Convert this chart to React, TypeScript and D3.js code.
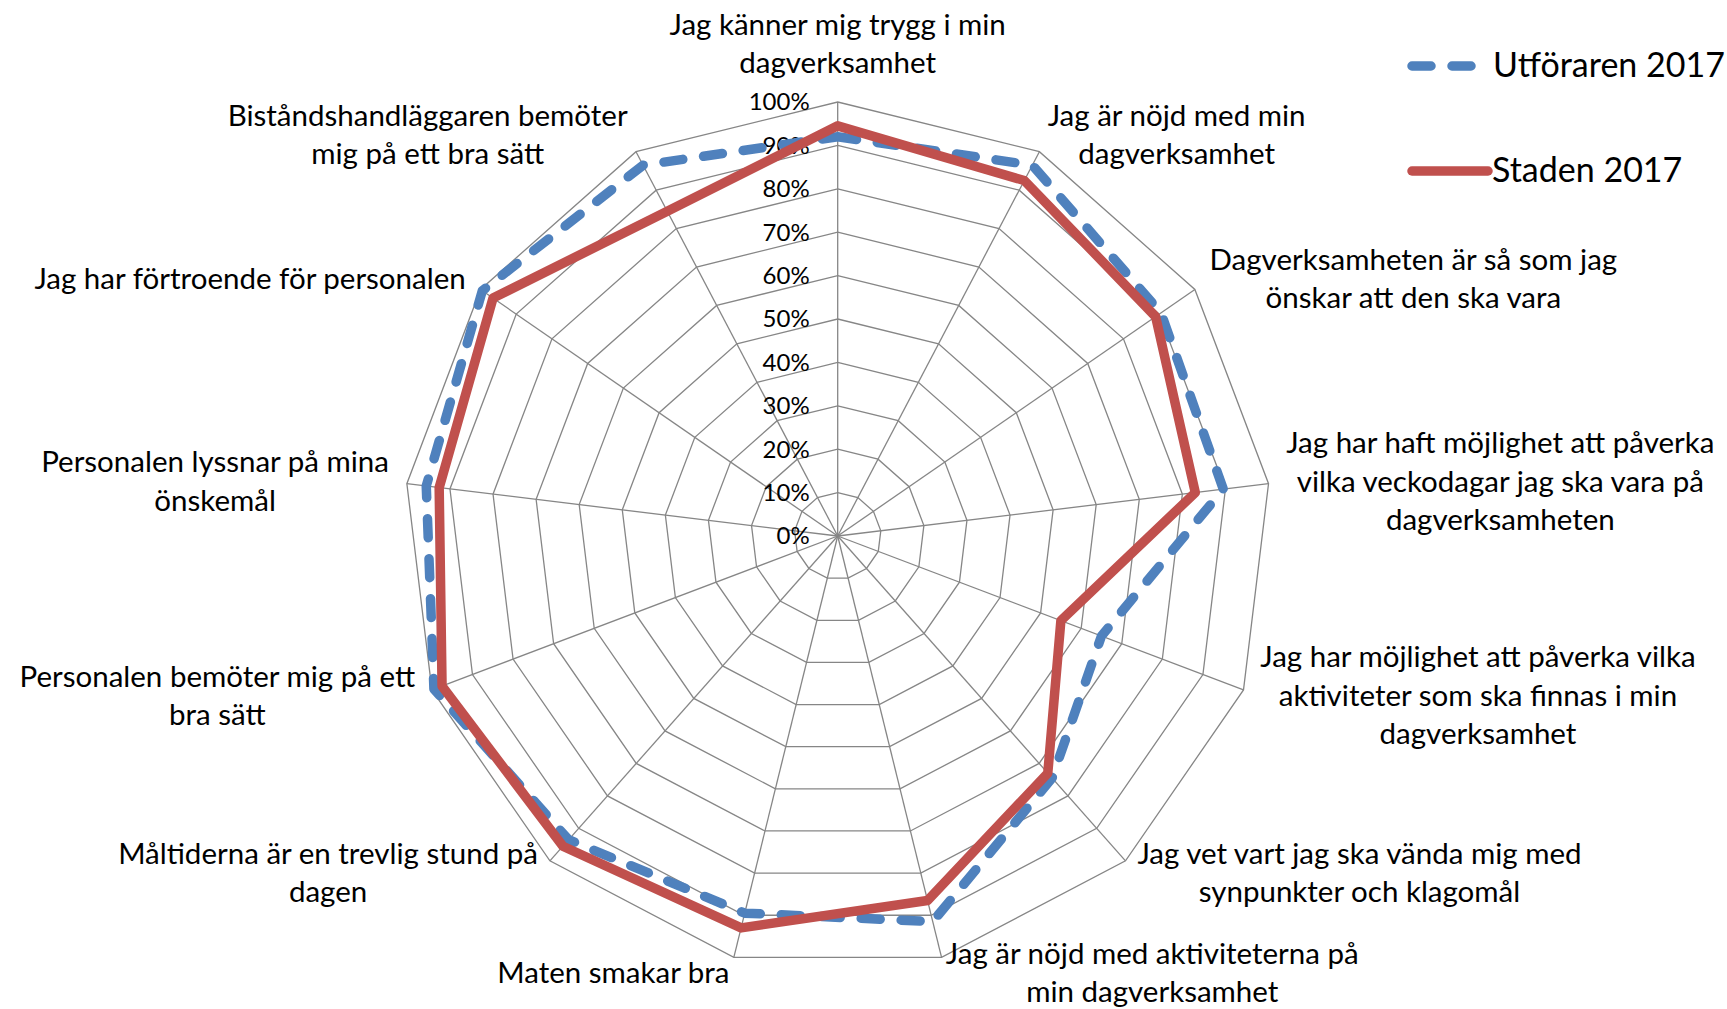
import React, { useEffect, useRef } from 'react';
import * as d3 from 'd3';

// Axis labels, already wrapped the way the original chart wraps them
const categories: string[][] = [
  ['Jag känner mig trygg i min', 'dagverksamhet'],
  ['Jag är nöjd med min', 'dagverksamhet'],
  ['Dagverksamheten är så som jag', 'önskar att den ska vara'],
  ['Jag har haft möjlighet att påverka', 'vilka veckodagar jag ska vara på', 'dagverksamheten'],
  ['Jag har möjlighet att påverka vilka', 'aktiviteter som ska finnas i min', 'dagverksamhet'],
  ['Jag vet vart jag ska vända mig med', 'synpunkter och klagomål'],
  ['Jag är nöjd med aktiviteterna på', 'min dagverksamhet'],
  ['Maten smakar bra'],
  ['Måltiderna är en trevlig stund på', 'dagen'],
  ['Personalen bemöter mig på ett', 'bra sätt'],
  ['Personalen lyssnar på mina', 'önskemål'],
  ['Jag har förtroende för personalen'],
  ['Biståndshandläggaren bemöter', 'mig på ett bra sätt'],
];

const utforaren2017 = [92, 96.5, 90.5, 89.5, 65, 74.5, 91.5, 89.5, 93.5, 99.5, 95.5, 99.5, 96.5];
const staden2017 = [94.5, 92.5, 89, 83, 55, 73, 86.5, 93, 95.5, 97.5, 92.5, 96.5, 84.5];

const ticks = [0, 10, 20, 30, 40, 50, 60, 70, 80, 90, 100];
const tickLabels = ticks.map(t => `${t}%`);

const seriesNames = ['Utföraren 2017', 'Staden 2017'];

const W = 1727;
const H = 1009;
const FONT = 'Lato, "Open Sans", sans-serif';

export default function App() {
  const svgRef = useRef<SVGSVGElement>(null);

  useEffect(() => {
    if (!svgRef.current) return;
    const svg = d3.select(svgRef.current);
    svg.selectAll('*').remove();

    const cx = 837.7;
    const cy = 536;
    const R = 434;
    const n = categories.length;

    const r = d3.scaleLinear().domain([0, 100]).range([0, R]);
    const angle = d3.scaleLinear().domain([0, n]).range([0, 2 * Math.PI]);
    const idx = d3.range(n);

    const g = svg.append('g').attr('transform', `translate(${cx},${cy})`);

    // grid rings
    ticks.slice(1).forEach(t => {
      const ring = d3.lineRadial<number>()
        .angle(i => angle(i))
        .radius(() => r(t))
        .curve(d3.curveLinearClosed);
      g.append('path')
        .attr('d', ring(idx))
        .attr('fill', 'none')
        .attr('stroke', '#868686')
        .attr('stroke-width', 1.3);
    });

    // spokes
    idx.forEach(i => {
      const a = angle(i);
      g.append('line')
        .attr('x1', 0).attr('y1', 0)
        .attr('x2', r(100) * Math.sin(a))
        .attr('y2', -r(100) * Math.cos(a))
        .attr('stroke', '#868686')
        .attr('stroke-width', 1.3);
    });

    // tick labels
    ticks.forEach((t, k) => {
      g.append('text')
        .attr('x', -28)
        .attr('y', -r(t))
        .attr('dy', '0.35em')
        .attr('text-anchor', 'end')
        .attr('font-family', FONT)
        .attr('font-size', 24)
        .attr('fill', '#000')
        .text(tickLabels[k]);
    });

    // series
    const line = (vals: number[]) => d3.lineRadial<number>()
      .angle(i => angle(i))
      .radius(i => r(vals[i]))
      .curve(d3.curveLinearClosed)(idx);

    g.append('path')
      .attr('d', line(utforaren2017))
      .attr('fill', 'none')
      .attr('stroke', '#4F81BD')
      .attr('stroke-width', 9.5)
      .attr('stroke-dasharray', '19 21')
      .attr('stroke-linecap', 'round')
      .attr('stroke-linejoin', 'round');

    g.append('path')
      .attr('d', line(staden2017))
      .attr('fill', 'none')
      .attr('stroke', '#C0504D')
      .attr('stroke-width', 9.5)
      .attr('stroke-linejoin', 'round');

    // category labels
    const lh = 38.5;
    categories.forEach((lines, i) => {
      const a = angle(i);
      const s = Math.sin(a);
      const c = Math.cos(a);
      const vx = cx + R * s;
      const vy = cy - R * c;
      const t = svg.append('text')
        .attr('font-family', FONT)
        .attr('font-size', 29.5)
        .attr('fill', '#000')
        .attr('text-anchor', 'middle');
      const spans = lines.map(l => t.append('tspan').text(l));
      const w = d3.max(spans, sp => (sp.node() as SVGTSpanElement).getComputedTextLength()) || 0;
      const h = lines.length * lh;
      let mx: number;
      let my: number;
      if (i === 0) {
        mx = vx;
        my = vy - 20 - h / 2;
      } else {
        mx = vx + 18 * s + (s > 0 ? w / 2 : -w / 2);
        my = vy - (c > 0 ? 19 : 16) * c;
      }
      spans.forEach((sp, k) => {
        sp.attr('x', mx)
          .attr('y', my - h / 2 + (k + 0.5) * lh)
          .attr('dy', '0.35em');
      });
    });

    // legend
    const legend = svg.append('g');
    legend.append('line')
      .attr('x1', 1412).attr('x2', 1480)
      .attr('y1', 66).attr('y2', 66)
      .attr('stroke', '#4F81BD')
      .attr('stroke-width', 9.5)
      .attr('stroke-dasharray', '19 21')
      .attr('stroke-linecap', 'round');
    legend.append('text')
      .attr('x', 1493).attr('y', 77)
      .attr('font-family', FONT)
      .attr('font-size', 34)
      .attr('fill', '#000')
      .text(seriesNames[0]);
    legend.append('line')
      .attr('x1', 1412).attr('x2', 1488)
      .attr('y1', 171).attr('y2', 171)
      .attr('stroke', '#C0504D')
      .attr('stroke-width', 9.5)
      .attr('stroke-linecap', 'round');
    legend.append('text')
      .attr('x', 1492).attr('y', 182)
      .attr('font-family', FONT)
      .attr('font-size', 34)
      .attr('fill', '#000')
      .text(seriesNames[1]);
  }, []);

  return (
    <svg
      ref={svgRef}
      width={W}
      height={H}
      style={{ position: 'absolute', left: 0, top: 0, background: '#fff' }}
    />
  );
}
